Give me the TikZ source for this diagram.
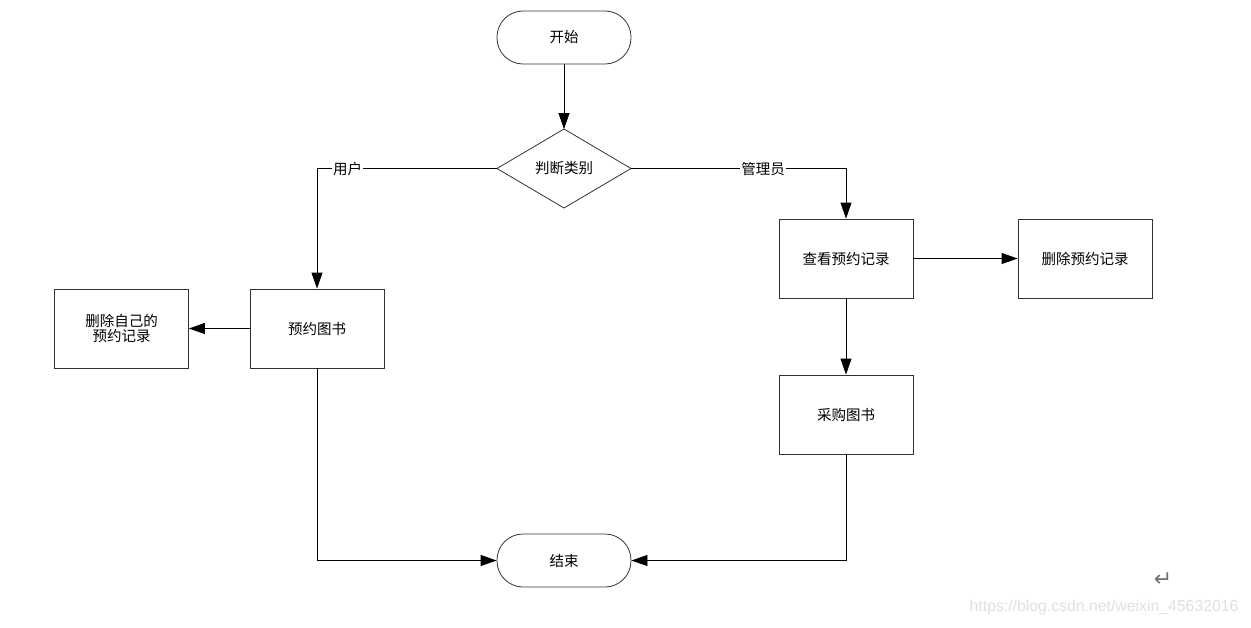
\documentclass[tikz,border=0pt]{standalone}
\usepackage{fontspec}
\setmainfont{Noto Sans CJK SC}
\newfontfamily\symfont{DejaVu Sans}
\newfontfamily\wmfont{Liberation Sans}
\usetikzlibrary{shapes.geometric,arrows.meta}
\begin{document}
\begin{tikzpicture}[x=1pt,y=-1pt,
  every node/.style={font=\fontsize{14.5}{18}\selectfont},
  proc/.style={draw=black!80,line width=0.8pt,minimum width=134pt,minimum height=79pt,align=center,inner sep=0pt},
  term/.style={draw=black!80,line width=0.8pt,rounded corners=26pt,minimum width=134pt,minimum height=53pt,inner sep=0pt},
  conn/.style={line width=0.8pt,-{Triangle[length=16pt,width=11pt]}},
  lab/.style={fill=white,inner sep=1pt}]
\useasboundingbox (0,0) rectangle (1251,627);
\fill[white] (0,0) rectangle (1251,627);
\node[term] (start) at (564,37.5) {开始};
\draw[line width=0.8pt,black!80] (497,168.5) -- (564,129) -- (631,168.5) -- (564,208) -- cycle;
\coordinate (dtop) at (564,129);
\coordinate (dleft) at (497,168.5);
\coordinate (dright) at (631,168.5);
\node at (564,168.5) (judge) {判断类别};
\node[proc] (view) at (846,258.5) {查看预约记录};
\node[proc] (delres) at (1085,258.5) {删除预约记录};
\node[proc] (reserve) at (317,328.5) {预约图书};
\node[proc] (delown) at (121.5,328.5) {删除自己的\\[-3pt]预约记录};
\node[proc] (buy) at (846,414.5) {采购图书};
\node[term] (end) at (564,560.5) {结束};
\draw[conn] (start) -- (dtop);
\draw[conn] (dleft) -| node[lab,pos=0.415] {用户} (reserve.north);
\draw[conn] (dright) -| node[lab,pos=0.307] {管理员} (view.north);
\draw[conn] (view) -- (delres);
\draw[conn] (reserve) -- (delown);
\draw[conn] (view) -- (buy);
\draw[conn] (reserve.south) |- (end.west);
\draw[conn] (buy.south) |- (end.east);
\node[text=black!55,font=\symfont\fontsize{22}{24}\selectfont] (ret) at (1163,580) {↵};
\node[text=black!12,font=\wmfont\fontsize{15.8}{18}\selectfont,anchor=east] (wm) at (1242,607) {https://blog.csdn.net/weixin\_45632016};
\end{tikzpicture}
\end{document}
